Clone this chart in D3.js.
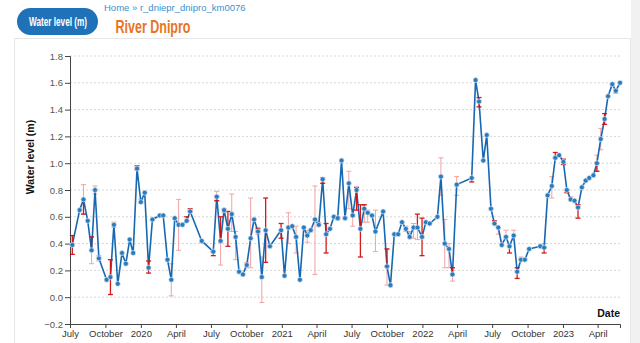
<!DOCTYPE html>
<html>
<head>
<meta charset="utf-8">
<script src="https://cdn.jsdelivr.net/npm/d3@7"></script>
<style>
  html, body { margin: 0; padding: 0; background: #fff; overflow: hidden; }
  svg { display: block; }
</style>
</head>
<body>
<svg id="chart" width="640" height="343"></svg>
<script>
// ---------------- DATA ----------------
const dates = [
"2019-07-07","2019-07-26","2019-08-05","2019-08-16","2019-08-26","2019-09-04","2019-09-14","2019-10-04","2019-10-14","2019-10-23",
"2019-11-02","2019-11-13","2019-11-23","2019-12-03","2019-12-12","2019-12-22","2020-01-01","2020-01-11","2020-01-21","2020-01-31",
"2020-02-19","2020-02-28","2020-03-10","2020-03-20","2020-03-29","2020-04-08","2020-04-18","2020-04-29","2020-05-08","2020-06-07",
"2020-07-07","2020-07-16","2020-07-26","2020-08-04","2020-08-14","2020-08-24","2020-09-03","2020-09-12","2020-09-22","2020-10-02",
"2020-10-12","2020-10-21","2020-10-31","2020-11-10","2020-11-20","2020-12-01","2020-12-30","2021-01-08","2021-01-18","2021-01-28",
"2021-02-07","2021-02-17","2021-02-27","2021-03-08","2021-03-17","2021-03-28","2021-04-07","2021-04-17","2021-04-26","2021-05-06",
"2021-05-16","2021-05-26","2021-06-05","2021-06-14","2021-06-24","2021-07-04","2021-07-14","2021-07-24","2021-08-03","2021-08-12",
"2021-08-23","2021-09-01","2021-09-21","2021-10-01","2021-10-10","2021-10-20","2021-10-30","2021-11-09","2021-11-19","2021-11-29",
"2021-12-09","2021-12-19","2021-12-31","2022-01-10","2022-01-20","2022-02-09","2022-02-18","2022-02-28","2022-03-11","2022-03-20",
"2022-03-31","2022-05-09","2022-05-19","2022-05-28","2022-06-08","2022-06-17","2022-06-28","2022-07-07","2022-07-17","2022-07-26",
"2022-08-06","2022-08-15","2022-08-26","2022-09-04","2022-09-14","2022-09-24","2022-10-05","2022-11-03","2022-11-13","2022-11-22",
"2022-12-03","2022-12-12","2022-12-22","2023-01-02","2023-01-11","2023-01-21","2023-01-31","2023-02-09","2023-02-19","2023-03-01",
"2023-03-10","2023-03-21","2023-03-30","2023-04-09","2023-04-19","2023-04-28","2023-05-09","2023-05-18","2023-05-29"];

const level = [
0.39,0.65,0.73,0.57,0.35,0.80,0.29,0.13,0.15,0.54,
0.10,0.33,0.25,0.43,0.33,0.96,0.71,0.78,0.22,0.58,
0.61,0.61,0.28,0.13,0.59,0.54,0.54,0.57,0.64,0.42,
0.34,0.75,0.42,0.65,0.51,0.62,0.45,0.19,0.17,0.24,
0.44,0.58,0.49,0.15,0.50,0.38,0.50,0.16,0.52,0.53,
0.45,0.13,0.52,0.46,0.50,0.58,0.54,0.88,0.47,0.51,
0.60,0.59,1.02,0.59,0.85,0.61,0.80,0.51,0.66,0.63,
0.61,0.49,0.64,0.23,0.09,0.47,0.47,0.56,0.51,0.45,
0.52,0.52,0.45,0.56,0.55,0.60,0.90,0.40,0.36,0.17,
0.84,0.89,1.62,1.46,1.02,1.21,0.66,0.55,0.52,0.39,
0.45,0.38,0.46,0.19,0.28,0.28,0.36,0.38,0.37,0.76,
0.83,1.04,1.06,1.01,0.80,0.73,0.72,0.67,0.82,0.87,
0.89,0.91,1.00,1.18,1.33,1.50,1.59,1.54,1.60];

// light (pink) uncertainty bars
const pinkDates = ["2019-08-05","2019-08-26","2019-09-04","2019-09-14","2019-10-23","2020-01-01","2020-03-20","2020-04-08",
"2020-07-16","2020-07-26","2020-08-04","2020-08-24","2020-09-03","2020-10-02","2020-10-12","2020-10-31","2020-11-10",
"2021-01-18","2021-02-07","2021-03-08","2021-03-28","2021-04-07","2021-06-24","2021-07-04","2021-08-03","2021-08-12",
"2021-09-01","2021-10-01","2021-11-19","2021-11-29","2021-12-09","2021-12-19","2022-02-18","2022-02-28","2022-03-11",
"2022-03-20","2022-03-31","2022-07-17","2022-08-06","2022-08-26","2022-09-14","2022-11-13","2022-12-03","2023-01-21",
"2023-03-30","2023-04-09","2023-05-18"];
const pinkLo = [0.62,0.25,0.77,0.27,0.52,0.70,0.01,0.35,
0.72,0.24,0.63,0.49,0.28,0.22,0.22,0.47,-0.04,
0.40,0.33,0.41,0.17,0.53,0.66,0.53,0.56,0.56,
0.34,0.09,0.49,0.45,0.44,0.43,0.76,0.22,0.22,
0.12,0.76,0.47,0.45,0.46,0.28,0.37,0.74,0.72,
0.94,1.10,1.52];
const pinkHi = [0.84,0.45,0.83,0.31,0.56,0.73,0.25,0.73,
0.79,0.42,0.66,0.77,0.49,0.26,0.74,0.52,0.30,
0.63,0.53,0.50,0.83,0.56,0.94,0.62,0.69,0.65,
0.65,0.36,0.53,0.49,0.55,0.52,1.04,0.58,0.40,
0.17,0.90,0.52,0.50,0.50,0.30,0.40,0.90,0.75,
1.06,1.26,1.55];

// dark red bars
const redDates = ["2019-07-07","2019-08-05","2019-08-26","2019-10-14","2019-12-22","2020-01-21","2020-04-29","2020-05-08",
"2020-07-07","2020-07-16","2020-07-26","2020-08-14","2020-10-31","2020-11-20","2020-12-30","2021-04-17","2021-04-26",
"2021-05-26","2021-07-14","2021-07-24","2021-08-03","2021-10-01","2021-12-19","2021-12-31","2022-03-20","2022-05-09",
"2022-05-28","2022-07-07","2022-08-15","2022-09-04","2022-11-13","2022-12-12","2023-01-02","2023-01-11","2023-02-09",
"2023-03-30","2023-04-19"];
const redLo = [0.32,0.62,0.35,0.02,0.95,0.18,0.57,0.64,
0.31,0.72,0.42,0.38,0.49,0.26,0.44,0.85,0.33,
0.58,0.65,0.30,0.66,0.23,0.52,0.31,0.17,0.86,
1.42,0.55,0.33,0.14,0.33,1.04,0.99,0.78,0.59,
0.94,1.29];
const redHi = [0.46,0.73,0.45,0.28,0.98,0.27,0.60,0.66,
0.34,0.75,0.60,0.64,0.51,0.74,0.55,0.89,0.55,
0.60,0.82,0.69,0.69,0.36,0.62,0.59,0.22,0.89,
1.49,0.57,0.38,0.22,0.37,1.08,1.03,0.80,0.69,
1.00,1.37];

const yTicks = [-0.2,0.0,0.2,0.4,0.6,0.8,1.0,1.2,1.4,1.6,1.8];
const xTickDates = ["2019-07-01","2019-10-01","2020-01-01","2020-04-01","2020-07-01","2020-10-01","2021-01-01","2021-04-01",
"2021-07-01","2021-10-01","2022-01-01","2022-04-01","2022-07-01","2022-10-01","2023-01-01","2023-04-01"];
const xTickLabels = ["July","October","2020","April","July","October","2021","April",
"July","October","2022","April","July","October","2023","April"];

// ---------------- DRAW ----------------
const parse = d3.utcParse("%Y-%m-%d");
const svg = d3.select("#chart");

// right grey strip & panel
svg.append("rect").attr("x", 631).attr("y", 0).attr("width", 9).attr("height", 343).attr("fill", "#f1f1f1");
svg.append("rect").attr("x", 14.5).attr("y", 38.5).attr("width", 616).attr("height", 330)
  .attr("fill", "#fff").attr("stroke", "#e6e6e6");

// header
svg.append("rect").attr("x", 17).attr("y", 8).attr("width", 81).attr("height", 27).attr("rx", 13.5)
  .attr("fill", "#1f72b8");
svg.append("text").attr("x", 29).attr("y", 26)
  .attr("font-family", "'Liberation Sans',Arial,sans-serif")
  .attr("font-weight", "bold").attr("font-size", 12.5).attr("fill", "#fff")
  .attr("textLength", 58).attr("lengthAdjust", "spacingAndGlyphs").text("Water level (m)");
svg.append("text").attr("x", 104).attr("y", 10.5)
  .attr("font-family", "'Liberation Sans',Arial,sans-serif").attr("font-size", 9.5).attr("fill", "#3d8fcc")
  .text("Home  »  r_dniepr_dnipro_km0076");
svg.append("text").attr("x", 115.5).attr("y", 32.5)
  .attr("font-family", "'Liberation Sans',Arial,sans-serif").attr("font-weight", "bold")
  .attr("font-size", 19).attr("fill", "#e8741f")
  .attr("textLength", 75).attr("lengthAdjust", "spacingAndGlyphs").text("River Dnipro");

const x = d3.scaleUtc().domain([parse("2019-07-01"), parse("2023-05-29")]).range([70, 620]);
const y = d3.scaleLinear().domain([-0.2, 1.8]).range([324, 56]);

// gridlines
svg.append("g").selectAll("line").data(yTicks.filter(v => v > -0.2)).join("line")
  .attr("x1", 70).attr("x2", 620).attr("y1", d => y(d)).attr("y2", d => y(d))
  .attr("stroke", "#d6d6d6").attr("stroke-width", 1).attr("stroke-dasharray", "2,2");

// axes
const yAxis = d3.axisLeft(y).tickValues(yTicks).tickFormat(d3.format(".1f")).tickSizeOuter(0).tickSize(5);
const gy = svg.append("g").attr("transform", "translate(70,0)").call(yAxis);
gy.select(".domain").attr("stroke", "#444");
gy.selectAll(".tick line").attr("stroke", "#444");
gy.selectAll(".tick text").attr("font-family", "'Liberation Sans',Arial,sans-serif").attr("font-size", 9.5)
  .attr("fill", "#555").attr("x", -7);

const tickDates = xTickDates.map(parse);
const xAxis = d3.axisBottom(x).tickValues(tickDates)
  .tickFormat((d, i) => xTickLabels[i]).tickSizeOuter(0).tickSize(4);
const gx = svg.append("g").attr("transform", "translate(0,324)").call(xAxis);
gx.select(".domain").attr("stroke", "#444");
gx.selectAll(".tick line").attr("stroke", "#444");
gx.selectAll(".tick text").attr("font-family", "'Liberation Sans',Arial,sans-serif").attr("font-size", 9.5)
  .attr("fill", "#333").attr("y", 6);

// axis titles
svg.append("text").attr("transform", "translate(34,157) rotate(-90)").attr("text-anchor", "middle")
  .attr("font-family", "'Liberation Sans',Arial,sans-serif").attr("font-weight", "bold").attr("font-size", 10.5)
  .attr("fill", "#111").text("Water level (m)");
svg.append("text").attr("x", 620).attr("y", 317).attr("text-anchor", "end")
  .attr("font-family", "'Liberation Sans',Arial,sans-serif").attr("font-weight", "bold").attr("font-size", 10.5)
  .attr("fill", "#111").text("Date");

// series
const pts = dates.map((d, i) => ({ t: parse(d), v: level[i] }));

function errorBars(g, ds, lo, hi, color, width, opacity) {
  const data = ds.map((d, i) => ({ t: parse(d), lo: lo[i], hi: hi[i] }));
  const grp = g.append("g").attr("stroke", color).attr("stroke-width", width).attr("opacity", opacity);
  grp.selectAll("line.v").data(data).join("line").attr("class", "v")
    .attr("x1", d => x(d.t)).attr("x2", d => x(d.t)).attr("y1", d => y(d.lo)).attr("y2", d => y(d.hi));
  grp.selectAll("line.lo").data(data).join("line").attr("class", "lo")
    .attr("x1", d => x(d.t) - 2.5).attr("x2", d => x(d.t) + 2.5).attr("y1", d => y(d.lo)).attr("y2", d => y(d.lo));
  grp.selectAll("line.hi").data(data).join("line").attr("class", "hi")
    .attr("x1", d => x(d.t) - 2.5).attr("x2", d => x(d.t) + 2.5).attr("y1", d => y(d.hi)).attr("y2", d => y(d.hi));
}

const plot = svg.append("g");
errorBars(plot, pinkDates, pinkLo, pinkHi, "#ef9a9a", 1, 0.9);

plot.append("path").datum(pts)
  .attr("fill", "none").attr("stroke", "#1668b2").attr("stroke-width", 1.6).attr("stroke-linejoin", "round")
  .attr("d", d3.line().x(d => x(d.t)).y(d => y(d.v)));

errorBars(plot, redDates, redLo, redHi, "#d01010", 1.3, 0.95);

plot.append("g").selectAll("circle").data(pts).join("circle")
  .attr("cx", d => x(d.t)).attr("cy", d => y(d.v)).attr("r", 2.5)
  .attr("fill", "#2a7bbd").attr("stroke", "#d8e6f2").attr("stroke-width", 0.7);
</script>
</body>
</html>
